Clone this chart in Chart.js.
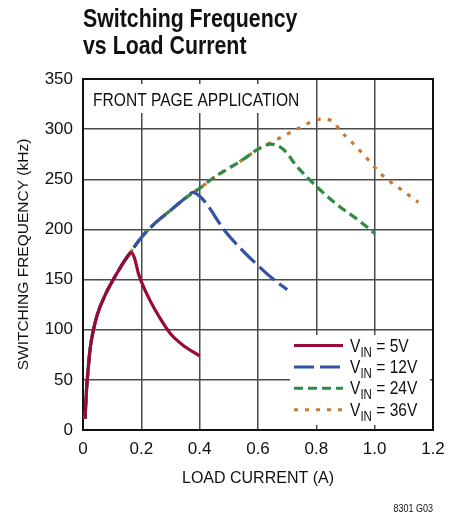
<!DOCTYPE html>
<html>
<head>
<meta charset="utf-8">
<script src="https://cdn.jsdelivr.net/npm/chart.js@4.4.0/dist/chart.umd.min.js"></script>
<style>
  html, body { margin: 0; padding: 0; background: #fff; }
  canvas { display: block; }
</style>
</head>
<body>
<canvas id="freqChart" width="463" height="518"></canvas>
<script>
const FONT = "'Liberation Sans', Arial, sans-serif";
const NARROW = 0.82; // squeeze for the condensed face of the original

// load current (A) vs switching frequency (kHz)
const vin5X = [0.007, 0.012, 0.018, 0.025, 0.035, 0.05, 0.075, 0.1, 0.13, 0.155, 0.167, 0.177, 0.19, 0.2, 0.23, 0.265, 0.3, 0.35, 0.4];
const vin5Y = [11, 40, 62, 82, 99, 116, 134, 148, 163, 174, 177, 171, 156, 148, 129, 111, 96, 83, 74];

const vin12X = [0.007, 0.012, 0.018, 0.025, 0.035, 0.05, 0.075, 0.1, 0.13, 0.16, 0.2, 0.25, 0.3, 0.35, 0.378, 0.4, 0.425, 0.48, 0.54, 0.6, 0.65, 0.7];
const vin12Y = [11, 40, 62, 82, 99, 116, 134, 148, 163, 176, 192, 207, 219, 231, 237, 233, 225, 201, 181, 164, 151, 140];

const vin24X = [0.007, 0.012, 0.018, 0.025, 0.035, 0.05, 0.075, 0.1, 0.13, 0.16, 0.2, 0.25, 0.3, 0.35, 0.4, 0.45, 0.5, 0.55, 0.6, 0.645, 0.69, 0.73, 0.8, 0.87, 0.95, 1.0];
const vin24Y = [11, 40, 62, 82, 99, 116, 134, 148, 163, 176, 192, 207, 219, 231, 241, 252, 261, 270, 280, 285, 279, 264, 243, 225, 208, 196];

const vin36X = [0.007, 0.012, 0.018, 0.025, 0.035, 0.05, 0.075, 0.1, 0.13, 0.16, 0.2, 0.25, 0.3, 0.35, 0.4, 0.45, 0.5, 0.55, 0.6, 0.66, 0.74, 0.79, 0.82, 0.86, 0.88, 0.915, 0.97, 1.0, 1.03, 1.09, 1.15];
const vin36Y = [11, 40, 62, 82, 99, 116, 134, 148, 163, 176, 192, 207, 219, 231, 241, 252, 261, 270, 280, 289, 301, 308, 310, 307, 299, 289, 272, 262, 253, 240, 227];

const seriesNames = ["5V", "12V", "24V", "36V"];
const xTicks = [0, 0.2, 0.4, 0.6, 0.8, 1.0, 1.2];
const yTicks = [0, 50, 100, 150, 200, 250, 300, 350];

const colors = ["#990a3a", "#3553a6", "#2e8b45", "#c87a30"];
const dashes = [[], [20, 6], [9, 5], [4, 7]];

function pts(xs, ys) {
  return xs.map((x, i) => ({ x: x, y: ys[i] }));
}

const series = [pts(vin5X, vin5Y), pts(vin12X, vin12Y), pts(vin24X, vin24Y), pts(vin36X, vin36Y)];

// draws text squeezed horizontally, returns the drawn width
function narrowText(ctx, text, x, y, font, squeeze) {
  ctx.save();
  ctx.font = font;
  ctx.translate(x, y);
  ctx.scale(squeeze, 1);
  ctx.fillText(text, 0, 0);
  const w = ctx.measureText(text).width * squeeze;
  ctx.restore();
  return w;
}

// white boxes behind the note and the legend, drawn over the grid
const boxPlugin = {
  id: "boxes",
  beforeDatasetsDraw(chart) {
    const ctx = chart.ctx;
    ctx.save();
    ctx.fillStyle = "#fff";
    ctx.fillRect(85, 84, 227, 29);
    ctx.fillRect(290, 335, 140, 90);
    ctx.fillStyle = "#111";
    ctx.textBaseline = "alphabetic";
    narrowText(ctx, "FRONT PAGE APPLICATION", 93, 106, "19px " + FONT, NARROW);
    ctx.restore();
  },
  afterDraw(chart) {
    const ctx = chart.ctx;
    ctx.save();
    ctx.fillStyle = "#111";
    ctx.textBaseline = "alphabetic";
    narrowText(ctx, "Switching Frequency", 83, 27, "bold 26px " + FONT, NARROW);
    narrowText(ctx, "vs Load Current", 83, 54, "bold 26px " + FONT, NARROW);

    // legend
    seriesNames.forEach((name, i) => {
      const y = 345.5 + i * 21.4;
      ctx.strokeStyle = colors[i];
      ctx.lineWidth = 3;
      ctx.setLineDash(dashes[i]);
      ctx.beginPath();
      ctx.moveTo(294, y);
      ctx.lineTo(343, y);
      ctx.stroke();
      ctx.setLineDash([]);
      ctx.fillStyle = "#111";
      let x = 350;
      x += narrowText(ctx, "V", x, y + 6, "19px " + FONT, NARROW);
      x += narrowText(ctx, "IN", x, y + 11, "14px " + FONT, NARROW);
      narrowText(ctx, " = " + name, x, y + 6, "19px " + FONT, NARROW);
    });

    ctx.textAlign = "right";
    narrowText(ctx, "8301 G03", 433, 512, "10px " + FONT, 0.9);
    ctx.restore();
  },
};

function initChart() {
  const ctx = document.getElementById("freqChart").getContext("2d");
  new Chart(ctx, {
    type: "line",
    data: {
      datasets: series.map((d, i) => ({
        label: "VIN = " + seriesNames[i],
        data: d,
        borderColor: colors[i],
        borderWidth: 3.2,
        borderDash: dashes[i],
        pointRadius: 0,
        fill: false,
        cubicInterpolationMode: "monotone",
      })),
    },
    options: {
      responsive: false,
      animation: false,
      devicePixelRatio: 1,
      layout: { padding: { top: 79, right: 30, bottom: 30, left: 0 } },
      scales: {
        x: {
          type: "linear",
          min: 0,
          max: 1.2,
          afterBuildTicks: (s) => { s.ticks = xTicks.map((v) => ({ value: v })); },
          afterFit: (s) => { s.height = 58; },
          ticks: {
            color: "#111",
            font: { size: 17, family: FONT },
            padding: 9,
            callback: (v) => (v === 0 ? "0" : v.toFixed(1)),
          },
          grid: { color: "#4a4a4a", lineWidth: 1.5, drawTicks: false },
          border: { color: "#111", width: 2 },
          title: {
            display: true,
            text: "LOAD CURRENT (A)",
            color: "#111",
            font: { size: 16, family: FONT },
            padding: { top: 0, bottom: 0 },
          },
        },
        y: {
          min: 0,
          max: 350,
          afterBuildTicks: (s) => { s.ticks = yTicks.map((v) => ({ value: v })); },
          afterFit: (s) => { s.width = 83; },
          ticks: {
            color: "#111",
            font: { size: 17, family: FONT },
            padding: 10,
          },
          grid: { color: "#4a4a4a", lineWidth: 1.5, drawTicks: false },
          border: { color: "#111", width: 2 },
          title: {
            display: true,
            text: "SWITCHING FREQUENCY (kHz)",
            color: "#111",
            font: { size: 15.5, family: FONT },
            padding: { top: 14, bottom: 0 },
          },
        },
        x2: {
          type: "linear",
          position: "top",
          min: 0,
          max: 1.2,
          display: true,
          afterFit: (s) => { s.height = 0; },
          ticks: { display: false },
          grid: { display: false },
          border: { color: "#111", width: 2 },
        },
        y2: {
          position: "right",
          min: 0,
          max: 350,
          display: true,
          afterFit: (s) => { s.width = 0; },
          ticks: { display: false },
          grid: { display: false },
          border: { color: "#111", width: 2 },
        },
      },
      plugins: {
        legend: { display: false },
        tooltip: { enabled: false },
      },
    },
    plugins: [boxPlugin],
  });
}

window.onload = initChart;
</script>
</body>
</html>
